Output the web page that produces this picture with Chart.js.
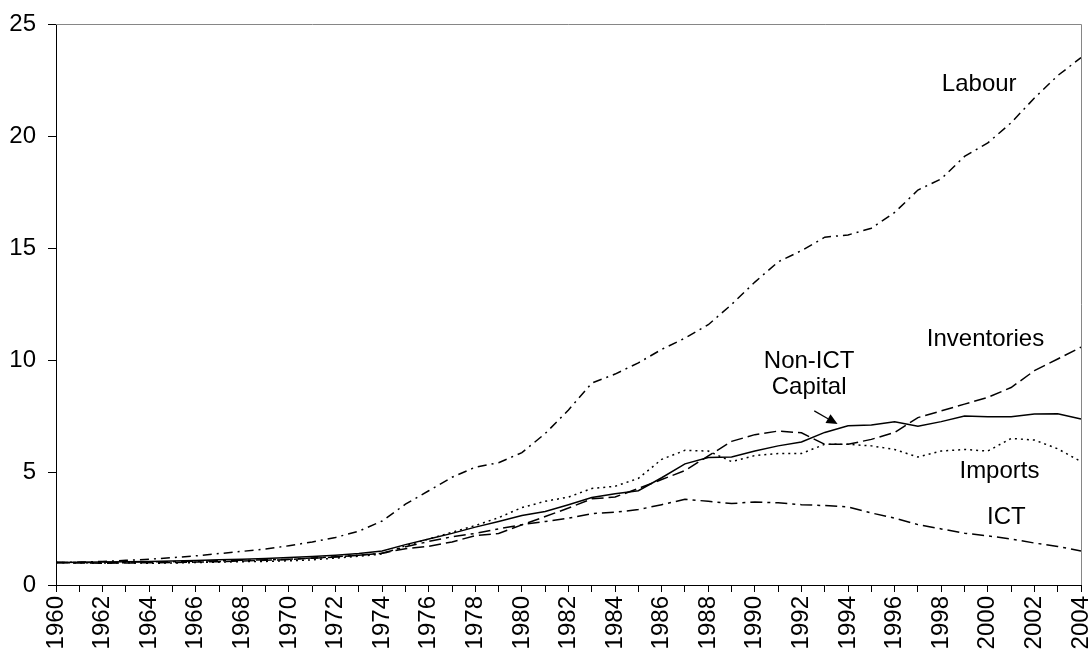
<!DOCTYPE html>
<html>
<head>
<meta charset="utf-8">
<script src="https://cdn.jsdelivr.net/npm/chart.js@4.4.1/dist/chart.umd.min.js"></script>
<style>
  html, body { margin: 0; padding: 0; background: #ffffff; }
  #wrap { width: 1091px; height: 656px; }
</style>
</head>
<body>
<div id="wrap"><canvas id="c" width="1091" height="656"></canvas></div>
<script>
const years = [];
for (let y = 1960; y <= 2004; y++) years.push(String(y));

const labour = [1.0,1.02,1.05,1.1,1.15,1.22,1.3,1.4,1.5,1.6,1.75,1.92,2.12,2.4,2.85,3.6,4.2,4.8,5.25,5.45,5.9,6.75,7.8,9.0,9.4,9.9,10.5,11.0,11.6,12.5,13.5,14.4,14.9,15.5,15.6,15.9,16.6,17.6,18.1,19.1,19.7,20.6,21.7,22.7,23.5];
const nonIctCapital = [1.0,1.01,1.02,1.04,1.05,1.07,1.09,1.12,1.15,1.18,1.22,1.27,1.33,1.4,1.52,1.8,2.05,2.3,2.58,2.83,3.1,3.28,3.58,3.9,4.07,4.2,4.78,5.4,5.68,5.7,5.97,6.2,6.37,6.8,7.1,7.13,7.27,7.08,7.28,7.53,7.5,7.5,7.62,7.63,7.4];
const inventories = [1.0,0.98,0.97,0.98,0.99,1.0,1.02,1.04,1.07,1.1,1.14,1.19,1.25,1.32,1.42,1.62,1.72,1.92,2.2,2.3,2.68,3.05,3.43,3.84,3.92,4.3,4.7,5.1,5.75,6.4,6.7,6.86,6.78,6.27,6.27,6.49,6.8,7.46,7.76,8.06,8.36,8.8,9.55,10.07,10.6];
const imports = [1.0,0.99,0.98,0.99,0.97,0.98,1.0,1.02,1.04,1.05,1.08,1.12,1.2,1.28,1.38,1.75,2.05,2.35,2.65,3.0,3.45,3.73,3.92,4.3,4.4,4.75,5.6,6.0,5.97,5.5,5.77,5.86,5.86,6.27,6.27,6.2,6.04,5.7,5.97,6.04,5.97,6.53,6.46,6.07,5.5];
const ict = [1.0,1.0,1.01,1.02,1.03,1.04,1.06,1.08,1.1,1.12,1.15,1.2,1.26,1.33,1.42,1.7,1.94,2.15,2.3,2.5,2.69,2.83,2.98,3.18,3.24,3.36,3.58,3.82,3.73,3.63,3.7,3.66,3.58,3.54,3.48,3.21,2.98,2.69,2.5,2.31,2.19,2.05,1.87,1.72,1.52];

const yTicks = [0,5,10,15,20,25];

// annotation labels: [text, x (fractional year index), y (value)]
const seriesLabels = [
  ['Labour', 39.63, 22.0],
  ['Inventories', 39.9, 10.65],
  ['Non-ICT', 32.33, 9.66],
  ['Capital', 32.33, 8.5],
  ['Imports', 40.5, 4.77],
  ['ICT', 40.8, 2.72]
];
const arrowFrom = [32.55, 7.76];
const arrowTo = [33.55, 7.17];

const FONT = '"Liberation Sans", Arial, Helvetica, sans-serif';

const framePlugin = {
  id: 'frame',
  afterDraw(chart) {
    const {ctx, chartArea: a} = chart;
    ctx.save();
    ctx.strokeStyle = '#868686';
    ctx.lineWidth = 1;
    ctx.beginPath();
    ctx.moveTo(a.left, a.top + 0.5);
    ctx.lineTo(a.right + 0.5, a.top + 0.5);
    ctx.lineTo(a.right + 0.5, a.bottom);
    ctx.stroke();
    ctx.restore();
  }
};

const annotPlugin = {
  id: 'annot',
  afterDatasetsDraw(chart) {
    const {ctx} = chart;
    const xs = chart.scales.x, ys = chart.scales.y;
    ctx.save();
    ctx.fillStyle = '#000';
    ctx.font = '24px ' + FONT;
    ctx.textAlign = 'center';
    ctx.textBaseline = 'alphabetic';
    seriesLabels.forEach(([t, xi, v]) => {
      ctx.fillText(t, xs.getPixelForValue(xi), ys.getPixelForValue(v));
    });
    // arrow
    const x1 = xs.getPixelForValue(arrowFrom[0]), y1 = ys.getPixelForValue(arrowFrom[1]);
    const x2 = xs.getPixelForValue(arrowTo[0]), y2 = ys.getPixelForValue(arrowTo[1]);
    const ang = Math.atan2(y2 - y1, x2 - x1);
    const hl = 11, hw = 5;
    const bx = x2 - hl * Math.cos(ang), by = y2 - hl * Math.sin(ang);
    ctx.strokeStyle = '#000';
    ctx.lineWidth = 1.2;
    ctx.beginPath();
    ctx.moveTo(x1, y1);
    ctx.lineTo(bx, by);
    ctx.stroke();
    ctx.beginPath();
    ctx.moveTo(x2, y2);
    ctx.lineTo(bx + hw * Math.sin(ang), by - hw * Math.cos(ang));
    ctx.lineTo(bx - hw * Math.sin(ang), by + hw * Math.cos(ang));
    ctx.closePath();
    ctx.fill();
    ctx.restore();
  }
};

const mk = (label, data, dash, w) => ({
  label, data,
  borderColor: '#000',
  backgroundColor: '#000',
  borderWidth: w || 1.5,
  borderDash: dash,
  pointRadius: 0,
  fill: false,
  tension: 0
});

new Chart(document.getElementById('c'), {
  type: 'line',
  data: {
    labels: years,
    datasets: [
      mk('Labour', labour, [9, 5, 2, 5]),
      mk('Non-ICT Capital', nonIctCapital, []),
      mk('Inventories', inventories, [12, 5]),
      mk('Imports', imports, [2, 4]),
      mk('ICT', ict, [12, 5, 3, 5])
    ]
  },
  options: {
    responsive: false,
    animation: false,
    devicePixelRatio: 1,
    layout: { padding: { top: 24, right: 10, left: 0, bottom: 0 } },
    plugins: { legend: { display: false }, tooltip: { enabled: false } },
    scales: {
      x: {
        type: 'category',
        offset: false,
        grid: { drawOnChartArea: false, drawTicks: true, tickLength: 7, color: '#000', lineWidth: 1 },
        border: { color: '#000', width: 1 },
        ticks: {
          autoSkip: false,
          maxRotation: 90,
          minRotation: 90,
          padding: 4,
          color: '#000',
          font: { family: FONT, size: 24 },
          callback: (v, i) => (i % 2 === 0 ? years[i] : '')
        },
        afterFit: s => { s.height = 71; s.paddingLeft = 0; s.paddingRight = 0; }
      },
      y: {
        min: 0,
        max: 25,
        afterBuildTicks: s => { s.ticks = yTicks.map(v => ({ value: v })); },
        grid: { drawOnChartArea: false, drawTicks: true, tickLength: 8, color: '#000' },
        border: { color: '#000', width: 1 },
        ticks: { padding: 12, color: '#000', font: { family: FONT, size: 24 } },
        afterFit: s => { s.width = 56; s.paddingTop = 0; s.paddingBottom = 0; }
      }
    }
  },
  plugins: [framePlugin, annotPlugin]
});
</script>
</body>
</html>
